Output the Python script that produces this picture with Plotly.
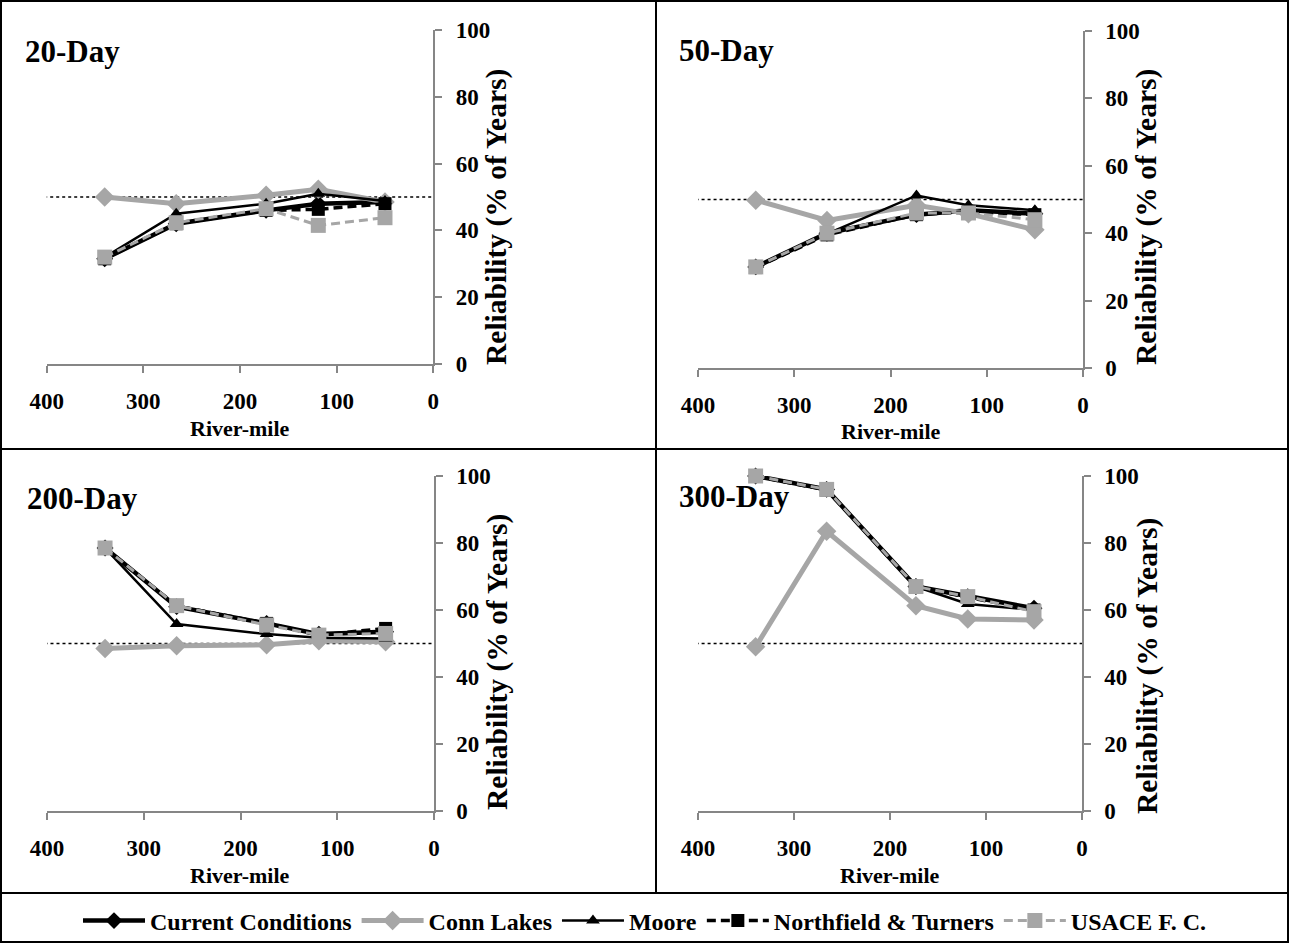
import plotly.graph_objects as go

# ---------------- data ----------------
river_mile = [340, 266, 173, 119, 50]
panels = ["20-Day", "50-Day", "200-Day", "300-Day"]
series_names = ["Current Conditions", "Conn Lakes", "Moore", "Northfield & Turners", "USACE F. C."]

current_conditions = {
    "20-Day": [31.5, 42.0, 46.0, 48.0, 48.5],
    "50-Day": [30.0, 40.0, 45.5, 46.8, 45.8],
    "200-Day": [78.5, 61.0, 56.0, 52.8, 53.5],
    "300-Day": [100.0, 96.0, 67.0, 64.0, 60.5],
}
conn_lakes = {
    "20-Day": [50.0, 48.0, 50.5, 52.3, 48.5],
    "50-Day": [49.8, 43.8, 48.3, 45.8, 41.0],
    "200-Day": [48.5, 49.3, 49.6, 50.8, 50.5],
    "300-Day": [49.0, 83.5, 61.3, 57.3, 57.0],
}
moore = {
    "20-Day": [32.0, 45.0, 48.0, 51.0, 48.8],
    "50-Day": [30.0, 39.8, 51.2, 48.3, 46.8],
    "200-Day": [78.5, 55.8, 52.8, 51.7, 51.5],
    "300-Day": [100.0, 95.8, 67.0, 61.8, 60.0],
}
northfield_turners = {
    "20-Day": [31.5, 42.0, 46.0, 46.3, 48.0],
    "50-Day": [29.8, 39.5, 45.5, 46.3, 45.5],
    "200-Day": [78.5, 61.2, 56.0, 52.5, 54.5],
    "300-Day": [100.0, 95.8, 67.0, 63.8, 60.0],
}
usace_fc = {
    "20-Day": [32.0, 42.3, 46.5, 41.5, 43.8],
    "50-Day": [30.0, 40.0, 46.0, 46.0, 44.0],
    "200-Day": [78.5, 61.3, 55.5, 52.5, 53.0],
    "300-Day": [100.0, 96.0, 67.0, 64.0, 59.5],
}
threshold_y = 50
threshold_x = [415, 0]
x_ticks = [0, 100, 200, 300, 400]
y_ticks = [0, 20, 40, 60, 80, 100]

# ---------------- style ----------------
W, H = 1289, 943
FONT = "Liberation Serif"
BLACK = "#000000"
GRAY = "#A6A6A6"
AXGRAY = "#868686"

def px_x(p):
    return p / W

def px_y(p):
    return 1 - p / H

styles = [
    dict(line=dict(color=BLACK, width=4.5), marker=dict(symbol="diamond", size=13, color=BLACK)),
    dict(line=dict(color=GRAY, width=5), marker=dict(symbol="diamond", size=15, color=GRAY)),
    dict(line=dict(color=BLACK, width=2.5), marker=dict(symbol="triangle-up", size=12, color=BLACK)),
    dict(line=dict(color=BLACK, width=3.5, dash="9px,5px"), marker=dict(symbol="square", size=13, color=BLACK)),
    dict(line=dict(color=GRAY, width=3, dash="9px,5px"), marker=dict(symbol="square", size=15, color=GRAY)),
]
series_data = [current_conditions, conn_lakes, moore, northfield_turners, usace_fc]

# panel geometry in pixels: (x_left, x_right, y_top, y_bottom)
geom = {
    "20-Day": (46.7, 433.3, 30, 364),
    "50-Day": (698, 1083, 31, 368),
    "200-Day": (47, 434, 476, 811),
    "300-Day": (698, 1082, 476, 811),
}
title_pos = {"20-Day": (23, 52), "50-Day": (677, 50), "200-Day": (25, 498), "300-Day": (677, 497)}
ytitle_pos = {"20-Day": (496, 217), "50-Day": (1146, 217), "200-Day": (497, 662), "300-Day": (1147, 666)}
xtitle_y = {"20-Day": 429, "50-Day": 431, "200-Day": 875, "300-Day": 875}

fig = go.Figure()
annotations = []
for i, p in enumerate(panels):
    k = "" if i == 0 else str(i + 1)
    xa, ya = "x" + k, "y" + k
    # threshold dotted line
    fig.add_trace(go.Scatter(x=threshold_x, y=[threshold_y, threshold_y], mode="lines",
                             line=dict(color=BLACK, width=1.5, dash="dot"),
                             xaxis=xa, yaxis=ya, showlegend=False, hoverinfo="skip"))
    for j, (name, data) in enumerate(zip(series_names, series_data)):
        fig.add_trace(go.Scatter(x=river_mile, y=data[p], mode="lines+markers", name=name,
                                 line=styles[j]["line"], marker=styles[j]["marker"],
                                 xaxis=xa, yaxis=ya, showlegend=(i == 0), cliponaxis=False))
    x0, x1, yt, yb = geom[p]
    fig.layout["xaxis" + k] = dict(
        domain=[px_x(x0), px_x(x1)], range=[400, 0], anchor=ya, automargin=False,
        tickvals=x_ticks, ticks="outside", ticklen=7, tickwidth=1.5, tickcolor=AXGRAY,
        showline=True, linecolor=AXGRAY, linewidth=1.5, showgrid=False, zeroline=False,
        tickfont=dict(family=FONT, size=23, color=BLACK, weight="bold"), ticklabelstandoff=9,
    )
    fig.layout["yaxis" + k] = dict(
        domain=[px_y(yb), px_y(yt)], range=[0, 100], anchor=xa, side="right", automargin=False,
        tickvals=y_ticks, ticks="outside", ticklen=7, tickwidth=1.5, tickcolor=AXGRAY,
        showline=True, linecolor=AXGRAY, linewidth=1.5, showgrid=False, zeroline=False,
        tickfont=dict(family=FONT, size=23, color=BLACK, weight="bold"), ticklabelstandoff=9,
    )
    tx, ty = title_pos[p]
    annotations.append(dict(text=p, x=px_x(tx), y=px_y(ty), xref="paper", yref="paper",
                            xanchor="left", yanchor="middle", showarrow=False,
                            font=dict(family=FONT, size=31, color=BLACK, weight="bold")))
    annotations.append(dict(text="River-mile", x=px_x((x0 + x1) / 2), y=px_y(xtitle_y[p]),
                            xref="paper", yref="paper", xanchor="center", yanchor="middle",
                            showarrow=False, font=dict(family=FONT, size=22, color=BLACK, weight="bold")))
    rx, ry = ytitle_pos[p]
    annotations.append(dict(text="Reliability (% of Years)", x=px_x(rx), y=px_y(ry),
                            xref="paper", yref="paper", xanchor="center", yanchor="middle",
                            textangle=-90, showarrow=False,
                            font=dict(family=FONT, size=29.5, color=BLACK, weight="bold")))

shapes = [
    dict(type="rect", xref="paper", yref="paper", x0=px_x(1), x1=px_x(1288), y0=px_y(942), y1=px_y(1),
         line=dict(color=BLACK, width=2)),
    dict(type="line", xref="paper", yref="paper", x0=px_x(656), x1=px_x(656), y0=px_y(893), y1=px_y(1),
         line=dict(color=BLACK, width=2)),
    dict(type="line", xref="paper", yref="paper", x0=px_x(1), x1=px_x(1288), y0=px_y(449), y1=px_y(449),
         line=dict(color=BLACK, width=2)),
    dict(type="line", xref="paper", yref="paper", x0=px_x(1), x1=px_x(1288), y0=px_y(893), y1=px_y(893),
         line=dict(color=BLACK, width=2)),
]

fig.update_layout(
    width=W, height=H, margin=dict(l=0, r=0, t=0, b=0, autoexpand=False),
    paper_bgcolor="white", plot_bgcolor="white",
    showlegend=True,
    legend=dict(orientation="h", xref="container", yref="container",
                x=0.5, xanchor="center", y=px_y(921), yanchor="middle",
                font=dict(family=FONT, size=24, color=BLACK, weight="bold"),
                itemwidth=62, bgcolor="rgba(0,0,0,0)", tracegroupgap=0),
    annotations=annotations, shapes=shapes,
)

fig.write_html("out.html")
